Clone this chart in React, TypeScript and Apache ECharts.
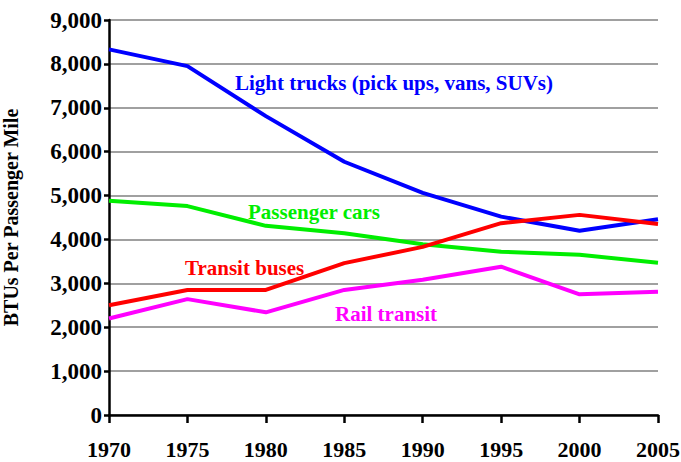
import React, { useEffect, useRef } from "react";
import * as echarts from "echarts";

const years = [1970, 1975, 1980, 1985, 1990, 1995, 2000, 2005];
const lightTrucks = [8330, 7950, 6810, 5770, 5060, 4520, 4200, 4460];
const passengerCars = [4880, 4760, 4310, 4140, 3890, 3720, 3650, 3470];
const transitBuses = [2500, 2850, 2850, 3460, 3830, 4370, 4560, 4350];
const railTransit = [2200, 2640, 2340, 2850, 3080, 3380, 2750, 2810];
const yTicks = [0, 1000, 2000, 3000, 4000, 5000, 6000, 7000, 8000, 9000];

const labels = [
  { text: "Light trucks (pick ups, vans, SUVs)", color: "#0000FF", x: 235, y: 83 },
  { text: "Passenger cars", color: "#00EE00", x: 248, y: 212 },
  { text: "Transit buses", color: "#FF0000", x: 185, y: 268 },
  { text: "Rail transit", color: "#FF00FF", x: 335, y: 314 },
];

const serif = "'Liberation Serif', 'Times New Roman', serif";

export default function App() {
  const ref = useRef<HTMLDivElement>(null);
  useEffect(() => {
    const chart = echarts.init(ref.current!, null, { renderer: "svg" });
    const mk = (name: string, data: number[], color: string) => ({
      name,
      type: "line",
      data: years.map((y, i) => [y, data[i]]),
      symbol: "none",
      lineStyle: { color, width: 4 },
      itemStyle: { color },
    });
    chart.setOption({
      animation: false,
      grid: {
        left: 109,
        right: 23,
        top: 20,
        bottom: 47,
        containLabel: false,
        outerBoundsMode: "none",
      },
      xAxis: {
        type: "value",
        min: 1970,
        max: 2005,
        interval: 5,
        axisLine: { lineStyle: { color: "#000", width: 2.5 } },
        axisTick: { show: true, length: 8, lineStyle: { color: "#000", width: 2.5 } },
        splitLine: { show: false },
        axisLabel: {
          formatter: (v: number) => String(v),
          color: "#000",
          fontFamily: serif,
          fontWeight: "bold",
          fontSize: 22,
          margin: 23,
        },
      },
      yAxis: {
        type: "value",
        min: yTicks[0],
        max: yTicks[yTicks.length - 1],
        interval: 1000,
        name: "BTUs Per Passenger Mile",
        nameLocation: "middle",
        nameGap: 88,
        nameTextStyle: { color: "#000", fontFamily: serif, fontWeight: "bold", fontSize: 20 },
        axisLine: { show: true, lineStyle: { color: "#000", width: 2.5 } },
        axisTick: { show: true, length: 5, lineStyle: { color: "#000", width: 2.5 } },
        splitLine: { show: true, lineStyle: { color: "#808080", width: 1.5 } },
        axisLabel: {
          formatter: (v: number) => v.toLocaleString("en-US"),
          color: "#000",
          fontFamily: serif,
          fontWeight: "bold",
          fontSize: 23,
          margin: 7,
        },
      },
      series: [
        mk("Light trucks", lightTrucks, "#0000FF"),
        mk("Passenger cars", passengerCars, "#00EE00"),
        mk("Transit buses", transitBuses, "#FF0000"),
        mk("Rail transit", railTransit, "#FF00FF"),
      ],
      graphic: labels.map((l) => ({
        type: "text",
        x: l.x,
        y: l.y,
        style: {
          text: l.text,
          fill: l.color,
          font: `bold 21px ${serif}`,
          textVerticalAlign: "middle",
          verticalAlign: "middle",
        },
      })),
    });
    return () => chart.dispose();
  }, []);
  return <div ref={ref} style={{ width: 681, height: 462, position: "absolute", left: 0, top: 0 }} />;
}
